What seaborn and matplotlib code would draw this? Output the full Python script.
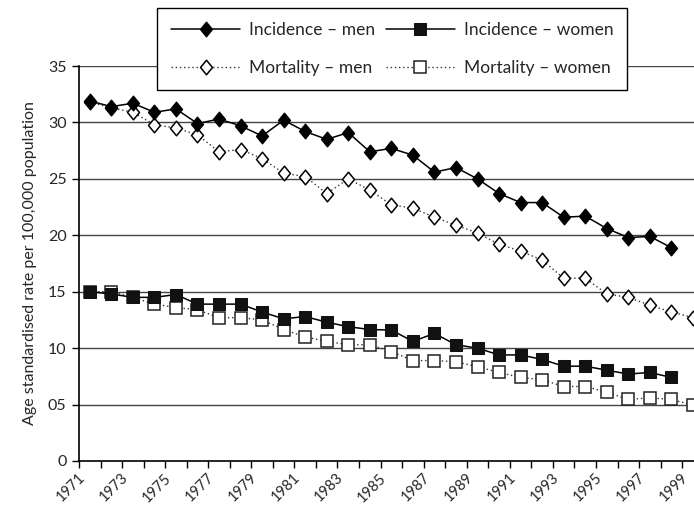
import matplotlib
matplotlib.use("Agg")
import matplotlib.pyplot as plt
from matplotlib import font_manager
from matplotlib.ticker import FixedLocator
from matplotlib.path import Path
import matplotlib.transforms as mtransforms
import seaborn as sns
import pandas as pd

years = list(range(1971, 2000))

incidence_men = [31.9, 31.4, 31.7, 30.9, 31.2, 29.9, 30.3, 29.7, 28.8, 30.2,
                 29.2, 28.5, 29.1, 27.4, 27.7, 27.1, 25.6, 26.0, 25.0, 23.7,
                 22.9, 22.9, 21.6, 21.7, 20.6, 19.8, 19.9, 18.9]
mortality_men = [31.8, 31.3, 30.9, 29.8, 29.5, 28.9, 27.4, 27.6, 26.8, 25.5,
                 25.2, 23.7, 25.0, 24.0, 22.7, 22.4, 21.6, 20.9, 20.2, 19.2,
                 18.6, 17.8, 16.2, 16.2, 14.8, 14.5, 13.8, 13.2, 12.7]
incidence_women = [15.0, 14.8, 14.5, 14.5, 14.75, 13.9, 13.9, 13.9, 13.2, 12.6,
                   12.8, 12.3, 11.9, 11.65, 11.6, 10.6, 11.3, 10.3, 10.0, 9.4,
                   9.4, 9.0, 8.4, 8.4, 8.05, 7.7, 7.85, 7.4]
mortality_women = [15.0, 15.0, 14.5, 13.9, 13.6, 13.4, 12.7, 12.7, 12.5, 11.65,
                   11.0, 10.6, 10.3, 10.3, 9.7, 8.9, 8.9, 8.8, 8.35, 7.85,
                   7.4, 7.2, 6.6, 6.6, 6.1, 5.45, 5.6, 5.45, 4.95]

y_ticks = [0, 5, 10, 15, 20, 25, 30, 35]
y_tick_labels = ["0", "05", "10", "15", "20", "25", "30", "35"]
x_label_years = list(range(1971, 2000, 2))

sns.set_theme(style="white")
available = {f.name for f in font_manager.fontManager.ttflist}
family = [f for f in ["Lato", "Open Sans", "DejaVu Sans"] if f in available]
plt.rcParams["font.family"] = family

# slightly tall diamond marker
diamond = Path([(0, 1), (0.82, 0), (0, -1), (-0.82, 0), (0, 1)],
               [Path.MOVETO, Path.LINETO, Path.LINETO, Path.LINETO, Path.CLOSEPOLY])

fig = plt.figure(figsize=(6.94, 5.08), dpi=100)
ax = fig.add_axes([79 / 694, 1 - 461 / 508, 1 - 79 / 694, (461 - 66) / 508])

# horizontal grid lines
for v in y_ticks[1:]:
    ax.axhline(v, color="#444444", lw=1.0, zorder=0)

def frame(values, label):
    return pd.DataFrame({"year": years[:len(values)], "rate": values, "series": label})

series = [
    (incidence_men, "Incidence \u2013 men",
     dict(color="black", lw=1.1, ls="-", marker=diamond, markersize=10.5,
          markerfacecolor="black", markeredgecolor="black", markeredgewidth=1.0)),
    (mortality_men, "Mortality \u2013 men",
     dict(color="#333333", lw=1.0, ls=(0, (1, 2)), marker=diamond, markersize=10.5,
          markerfacecolor="white", markeredgecolor="black", markeredgewidth=1.1)),
    (incidence_women, "Incidence \u2013 women",
     dict(color="black", lw=1.1, ls="-", marker="s", markersize=9,
          markerfacecolor="#111111", markeredgecolor="#111111")),
    (mortality_women, "Mortality \u2013 women",
     dict(color="#333333", lw=1.0, ls=(0, (1, 2)), marker="s", markersize=9,
          markerfacecolor="white", markeredgecolor="#222222", markeredgewidth=1.1)),
]

# mortality drawn first so incidence markers sit on top
for i in [1, 3, 0, 2]:
    vals, label, kw = series[i]
    sns.lineplot(data=frame(vals, label), x="year", y="rate", ax=ax, label=label,
                 zorder=3 if i in (0, 2) else 2, **kw)

ax.set_xlim(1970.5, 1999.05)
ax.set_ylim(0, 35)
ax.set_yticks(y_ticks)
ax.set_yticklabels(y_tick_labels, fontsize=11.5)
ax.xaxis.set_major_locator(FixedLocator(x_label_years))
ax.xaxis.set_minor_locator(FixedLocator([y + 0.5 for y in range(1970, 2000)]))
ax.tick_params(axis="x", which="major", length=0, pad=7)
ax.tick_params(axis="x", which="minor", length=5, width=1, color="black", direction="out", bottom=True)
ax.tick_params(axis="y", which="major", length=5, width=1, color="black", direction="out", left=True, pad=4)
ax.set_xticklabels([str(y) for y in x_label_years], rotation=45, ha="right", va="top",
                   rotation_mode="anchor", fontsize=10.5)
# pull the rotated year labels left so their ends sit under each point
shift = mtransforms.ScaledTranslation(-12 / 100, 0, fig.dpi_scale_trans)
for lab in ax.get_xticklabels():
    lab.set_transform(lab.get_transform() + shift)
ax.set_xlabel("")
ax.set_ylabel("Age standardised rate per 100,000 population", fontsize=11.5, labelpad=8)

for s in ["top", "right"]:
    ax.spines[s].set_visible(False)
for s in ["left", "bottom"]:
    ax.spines[s].set_color("black")
    ax.spines[s].set_linewidth(1.2)

handles, labels = ax.get_legend_handles_labels()
lookup = dict(zip(labels, handles))
leg_order = ["Incidence \u2013 men", "Mortality \u2013 men", "Incidence \u2013 women", "Mortality \u2013 women"]
leg = fig.legend([lookup[l] for l in leg_order], leg_order, ncol=2,
                 loc="upper left", bbox_to_anchor=(157 / 694, 1 - 8 / 508),
                 fontsize=12.5, frameon=True, fancybox=False, edgecolor="black",
                 handlelength=4.0, handletextpad=0.5, columnspacing=0.6,
                 borderpad=0.8, borderaxespad=0, labelspacing=1.3)
leg.get_frame().set_linewidth(1.0)
leg.get_frame().set_facecolor("white")
leg.get_frame().set_alpha(1)
ax.get_legend().remove()

fig.savefig("out.png", dpi=100)
